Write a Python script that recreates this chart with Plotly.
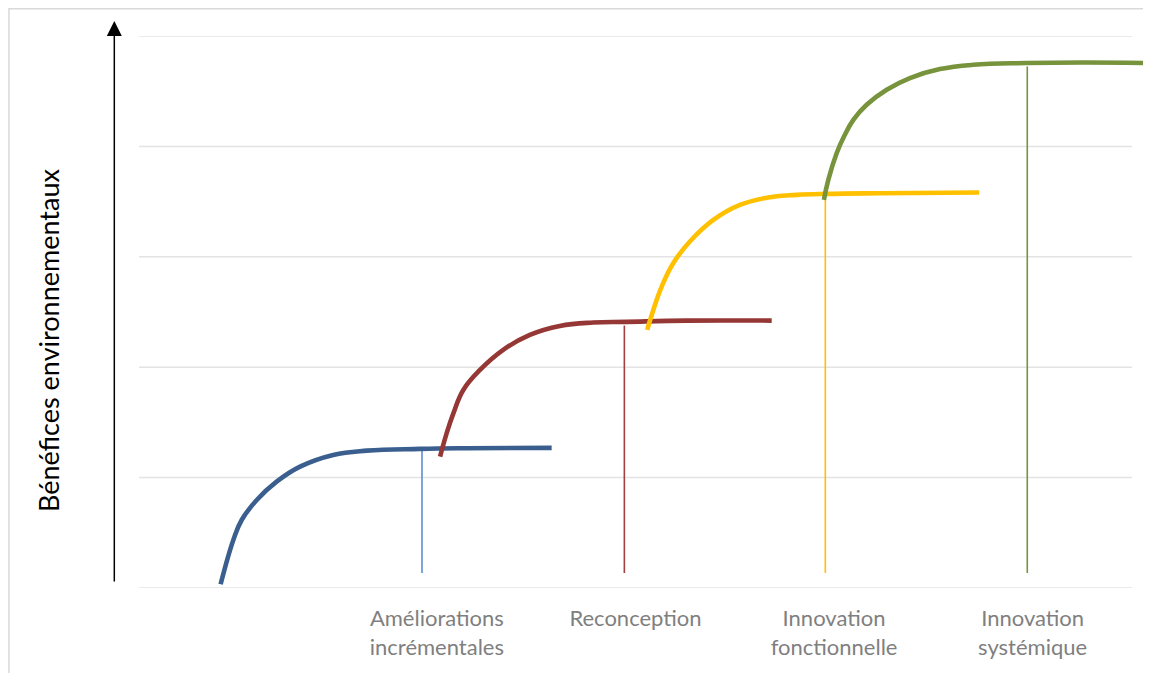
import plotly.graph_objects as go

# category labels (first slot is empty in the source chart)
cat_pos = [1, 2, 3, 4]
cat_labels = ["Améliorations<br>incrémentales", "Reconception",
              "Innovation<br>fonctionnelle", "Innovation<br>systémique"]

# S-curves (x in category units, y in grid units)
blue_x = [-0.089, -0.025, 0.017, 0.093, 0.193, 0.311, 0.478, 0.647, 0.915, 1.150, 1.578]
blue_y = [0.034, 0.435, 0.616, 0.797, 0.963, 1.099, 1.205, 1.244, 1.260, 1.266, 1.269]

red_x = [1.016, 1.049, 1.083, 1.133, 1.217, 1.334, 1.468, 1.619, 1.787, 1.956, 2.258, 2.686]
red_y = [1.190, 1.401, 1.582, 1.794, 1.975, 2.157, 2.293, 2.374, 2.405, 2.411, 2.422, 2.422]

yellow_x = [2.059, 2.090, 2.132, 2.190, 2.274, 2.392, 2.526, 2.677, 2.812, 2.963, 3.231, 3.731]
yellow_y = [2.338, 2.519, 2.730, 2.942, 3.138, 3.334, 3.470, 3.540, 3.561, 3.570, 3.576, 3.582]

green_x = [2.949, 2.971, 3.013, 3.050, 3.097, 3.164, 3.265, 3.382, 3.533, 3.701, 3.970, 4.255, 4.596]
green_y = [3.516, 3.697, 3.938, 4.089, 4.240, 4.377, 4.513, 4.619, 4.700, 4.739, 4.755, 4.760, 4.755]

# vertical drop lines: x position, top and bottom values
drop_x = [0.925, 1.944, 2.956, 3.973]
drop_top = [1.260, 2.377, 3.516, 4.724]
drop_bottom = [0.136, 0.136, 0.136, 0.136]

grid_levels = [0, 1, 2, 3, 4, 5]

curve_colors = ["#3a5f8f", "#953735", "#ffc000", "#77933c"]
drop_colors = ["#5b8fd0", "#a0413f", "#ffc000", "#77933c"]

fig = go.Figure()

for lvl in grid_levels:
    fig.add_shape(type="line", xref="x", yref="y", x0=-0.5, x1=4.5, y0=lvl, y1=lvl,
                  line=dict(color="#e3e3e3", width=1.5), layer="below")

for x, top, bot, c in zip(drop_x, drop_top, drop_bottom, drop_colors):
    fig.add_trace(go.Scatter(x=[x, x], y=[bot, top], mode="lines",
                             line=dict(color=c, width=1.6), hoverinfo="skip"))

for xs, ys, c in [(blue_x, blue_y, curve_colors[0]), (red_x, red_y, curve_colors[1]),
                  (yellow_x, yellow_y, curve_colors[2]), (green_x, green_y, curve_colors[3])]:
    fig.add_trace(go.Scatter(x=xs, y=ys, mode="lines",
                             line=dict(color=c, width=4.6, shape="spline", smoothing=1.2),
                             hoverinfo="skip"))

# outer frame
fig.add_shape(type="rect", xref="paper", yref="paper", x0=-0.1285, x1=1.05, y0=-0.3, y1=1.0494,
              line=dict(color="#d9d9d9", width=1.5), layer="below")

# y axis arrow
fig.add_annotation(xref="paper", yref="paper", x=-0.0244, y=1.027, ax=0, ay=562,
                   text="", showarrow=True, arrowhead=2, arrowsize=2, arrowwidth=1.5,
                   arrowcolor="black", standoff=0)

fig.add_annotation(xref="paper", yref="paper", x=-0.09, y=0.449, text="Bénéfices environnementaux",
                   xanchor="center", yanchor="middle",
                   textangle=-90, showarrow=False, font=dict(size=27, color="black"))

fig.update_layout(
    width=1143, height=665,
    margin=dict(l=131, r=0, t=28, b=85),
    paper_bgcolor="white", plot_bgcolor="white",
    showlegend=False, hovermode=False,
    font=dict(family="Lato", color="#7f7f7f"),
    xaxis=dict(range=[-0.5, 4.596], showgrid=False, zeroline=False, showline=False,
               tickvals=cat_pos, ticktext=cat_labels, ticks="",
               tickfont=dict(size=22, color="#7f7f7f"), ticklabelstandoff=15),
    yaxis=dict(range=[0, 5], showgrid=False, zeroline=False, showline=False,
               showticklabels=False),
)

fig.write_html("out.html")
